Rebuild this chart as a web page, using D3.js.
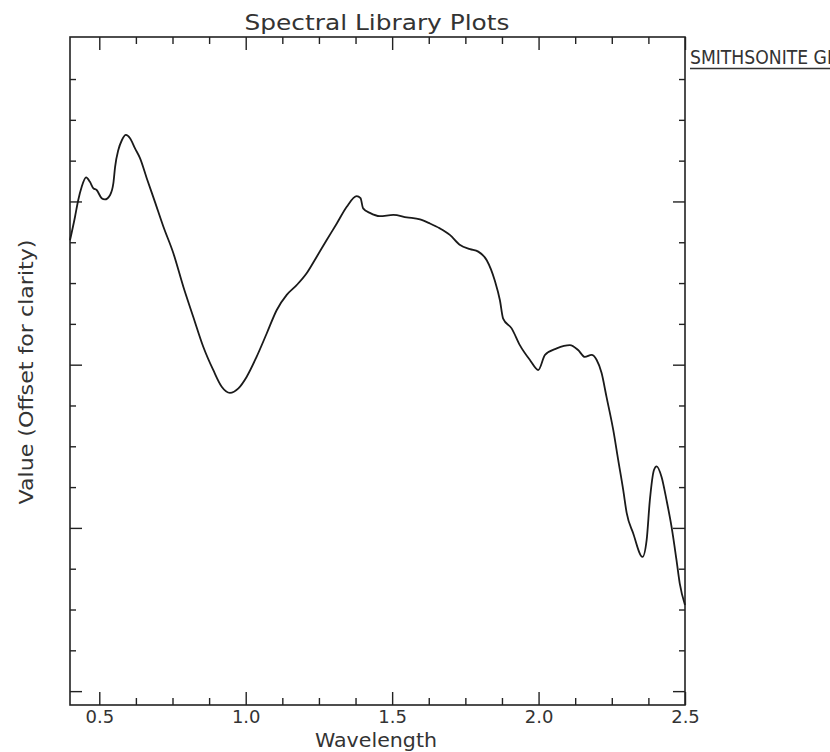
<!DOCTYPE html>
<html lang="en">
<head>
    <meta charset="UTF-8">
    <title>Spectral Library Plots</title>
    <script src="https://d3js.org/d3.v7.min.js"></script>
    <style>
        body { margin: 0; background: #fff; }
        text { font-family: "DejaVu Sans", sans-serif; fill: #333; }
    </style>
</head>
<body>
<script>

    // spectrum, wavelength in microns
    var wavelength = [
        0.400, 0.417, 0.428, 0.440, 0.455, 0.468, 0.480, 0.491, 0.508, 0.519,
        0.537, 0.548, 0.554, 0.565, 0.577, 0.591, 0.605, 0.622, 0.639, 0.662,
        0.690, 0.719, 0.753, 0.787, 0.821, 0.855, 0.889, 0.918, 0.946, 0.975,
        1.003, 1.037, 1.072, 1.106, 1.140, 1.174, 1.208, 1.242, 1.276, 1.311,
        1.345, 1.379, 1.392, 1.401, 1.424, 1.458, 1.504, 1.550, 1.595, 1.629,
        1.663, 1.697, 1.732, 1.766, 1.794, 1.823, 1.851, 1.868, 1.879, 1.908,
        1.936, 1.971, 1.999, 2.022, 2.062, 2.107, 2.135, 2.158, 2.181, 2.198,
        2.215, 2.232, 2.255, 2.272, 2.289, 2.301, 2.323, 2.355, 2.369, 2.380,
        2.394, 2.403, 2.420, 2.437, 2.454, 2.471, 2.482, 2.500
    ];
    var value = [
        11.05, 11.62, 12.03, 12.36, 12.59, 12.48, 12.32, 12.28, 12.08, 12.05,
        12.16, 12.44, 12.85, 13.26, 13.50, 13.63, 13.55, 13.30, 13.06, 12.57,
        11.99, 11.38, 10.73, 9.91, 9.17, 8.44, 7.87, 7.46, 7.31, 7.42,
        7.70, 8.19, 8.77, 9.34, 9.71, 9.95, 10.24, 10.64, 11.05, 11.46,
        11.87, 12.13, 12.08, 11.83, 11.72, 11.64, 11.67, 11.61, 11.56, 11.46,
        11.34, 11.18, 10.93, 10.83, 10.77, 10.56, 10.05, 9.58, 9.13, 8.89,
        8.48, 8.11, 7.87, 8.24, 8.40, 8.48, 8.36, 8.19, 8.24, 8.12,
        7.80, 7.21, 6.40, 5.66, 4.93, 4.36, 3.87, 3.29, 3.70, 4.68,
        5.42, 5.51, 5.25, 4.68, 4.03, 3.21, 2.64, 2.11
    ];

    var xMajor = [0.5, 1.0, 1.5, 2.0, 2.5];
    var xMinor = [0.625, 0.75, 0.875, 1.125, 1.25, 1.375, 1.625, 1.75, 1.875, 2.125, 2.25, 2.375];
    var yMajor = [0, 4, 8, 12];
    var yMinor = [1, 2, 3, 5, 6, 7, 9, 10, 11, 13, 14, 15];

    var width = 830, height = 752;
    // plot box (window.top is read-only, so no bare "top")
    var box = { l: 70, r: 685, t: 37, b: 705 };

    var svg = d3.select('body')
        .append('svg')
        .attr('width', width)
        .attr('height', height);

    svg.append('rect')
        .attr('width', width)
        .attr('height', height)
        .attr('fill', '#fff');

    var x = d3.scaleLinear().domain([0.4, 2.5]).range([box.l, box.r]);
    var y = d3.scaleLinear().domain([-0.34, 16.03]).range([box.b, box.t]);

    // ticks point inward on all four sides
    function ticks(axisFn, scale, vals, size, tx, ty, labels) {
        var a = axisFn(scale)
            .tickValues(vals)
            .tickSizeInner(-size)
            .tickSizeOuter(0)
            .tickPadding(5)
            .tickFormat(labels ? d3.format('.1f') : '');
        var g = svg.append('g')
            .attr('transform', 'translate(' + tx + ',' + ty + ')')
            .call(a);
        g.select('.domain').remove();
        g.selectAll('line').attr('stroke', '#222').attr('stroke-width', 1.4);
        return g;
    }

    var xb = ticks(d3.axisBottom, x, xMajor, 13, 0, box.b, true);
    xb.selectAll('text')
        .attr('font-size', 18)
        .attr('fill', '#333')
        .attr('font-family', '"DejaVu Sans", sans-serif');
    ticks(d3.axisBottom, x, xMinor, 7, 0, box.b, false);
    ticks(d3.axisTop, x, xMajor, 13, 0, box.t, false);
    ticks(d3.axisTop, x, xMinor, 7, 0, box.t, false);

    ticks(d3.axisLeft, y, yMajor, 12, box.l, 0, false);
    ticks(d3.axisLeft, y, yMinor, 6, box.l, 0, false);
    ticks(d3.axisRight, y, yMajor, 12, box.r, 0, false);
    ticks(d3.axisRight, y, yMinor, 6, box.r, 0, false);

    // frame
    svg.append('rect')
        .attr('x', box.l)
        .attr('y', box.t)
        .attr('width', box.r - box.l)
        .attr('height', box.b - box.t)
        .attr('fill', 'none')
        .attr('stroke', '#222')
        .attr('stroke-width', 1.6);

    var line = d3.line()
        .x(function(d, i) { return x(wavelength[i]); })
        .y(function(d) { return y(d); })
        .curve(d3.curveMonotoneX);

    svg.append('path')
        .datum(value)
        .attr('d', line)
        .attr('fill', 'none')
        .attr('stroke', '#1a1a1a')
        .attr('stroke-width', 1.8)
        .attr('stroke-linejoin', 'round');

    svg.append('text')
        .attr('x', 377)
        .attr('y', 30)
        .attr('text-anchor', 'middle')
        .attr('font-size', 22)
        .attr('textLength', 265)
        .attr('lengthAdjust', 'spacingAndGlyphs')
        .text('Spectral Library Plots');

    svg.append('text')
        .attr('x', 376)
        .attr('y', 747)
        .attr('text-anchor', 'middle')
        .attr('font-size', 20)
        .attr('textLength', 122)
        .attr('lengthAdjust', 'spacingAndGlyphs')
        .text('Wavelength');

    svg.append('text')
        .attr('transform', 'translate(33,372) rotate(-90)')
        .attr('text-anchor', 'middle')
        .attr('font-size', 20)
        .attr('textLength', 265)
        .attr('lengthAdjust', 'spacingAndGlyphs')
        .text('Value (Offset for clarity)');

    // spectrum name, runs off the right edge
    svg.append('text')
        .attr('x', 690)
        .attr('y', 64)
        .attr('font-size', 19)
        .attr('textLength', 194)
        .attr('lengthAdjust', 'spacingAndGlyphs')
        .text('SMITHSONITE GDS432');

    svg.append('line')
        .attr('x1', 690)
        .attr('x2', width)
        .attr('y1', 68.5)
        .attr('y2', 68.5)
        .attr('stroke', '#333')
        .attr('stroke-width', 1.4);

</script>
</body>
</html>
